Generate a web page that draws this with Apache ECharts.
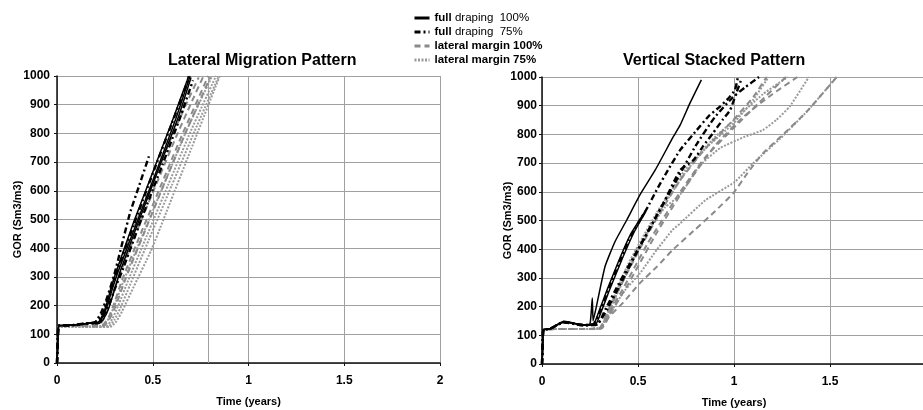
<!DOCTYPE html>
<html>
<head>
<meta charset="utf-8">
<script src="https://cdn.jsdelivr.net/npm/echarts@6/dist/echarts.min.js"></script>
<style>html,body{margin:0;padding:0;background:#fff}#c{width:923px;height:410px}</style>
</head>
<body>
<div id="c"></div>
<script>
// ---------- data ----------
const xTicks = [0, 0.5, 1, 1.5, 2];
const yTicks = [0, 100, 200, 300, 400, 500, 600, 700, 800, 900, 1000];
const panelTitles = ['Lateral Migration Pattern', 'Vertical Stacked Pattern'];
const groupNames = ['full draping 100%', 'full draping 75%', 'lateral margin 100%', 'lateral margin 75%'];
const leftExtraGridX = [0.79];

// Left panel: Lateral Migration Pattern  [time (years), GOR]
const leftFD100 = [
  [[0,0],[0.005,95],[0.01,130],[0.08,132],[0.15,138],[0.18,140],[0.2,138],[0.22,145],[0.25,185],[0.28,255],[0.31,320],[0.4,490],[0.5,665],[0.6,840],[0.68,985],[0.686,1000]],
  [[0,0],[0.005,95],[0.01,130],[0.08,132],[0.15,137],[0.18,139],[0.21,137],[0.23,150],[0.26,195],[0.29,260],[0.32,320],[0.42,495],[0.52,670],[0.62,850],[0.695,1000]],
  [[0,0],[0.005,95],[0.01,130],[0.08,132],[0.15,137],[0.18,139],[0.22,138],[0.24,150],[0.27,190],[0.3,255],[0.33,320],[0.43,500],[0.53,675],[0.63,850],[0.7,995]]
];
const leftFD75 = [
  [[0,0],[0.005,95],[0.01,130],[0.08,132],[0.15,138],[0.18,140],[0.2,142],[0.23,175],[0.26,225],[0.3,310],[0.38,520],[0.43,620],[0.48,720]],
  [[0,0],[0.005,95],[0.01,130],[0.08,132],[0.15,137],[0.19,140],[0.22,150],[0.25,195],[0.28,255],[0.31,315],[0.4,480],[0.5,660],[0.6,835],[0.69,995]],
  [[0,0],[0.005,95],[0.01,130],[0.08,132],[0.15,137],[0.19,139],[0.23,150],[0.27,200],[0.3,255],[0.34,320],[0.44,500],[0.55,690],[0.64,850],[0.71,985]]
];
const leftLM100 = [
  [[0,0],[0.005,95],[0.01,128],[0.1,130],[0.18,132],[0.21,135],[0.24,165],[0.27,230],[0.3,300],[0.4,470],[0.5,630],[0.6,790],[0.68,910],[0.74,995]],
  [[0,0],[0.005,95],[0.01,128],[0.1,130],[0.18,131],[0.22,132],[0.25,160],[0.28,215],[0.32,295],[0.42,465],[0.52,625],[0.62,785],[0.7,905],[0.765,1000]],
  [[0,0],[0.005,95],[0.01,128],[0.1,129],[0.2,129],[0.24,133],[0.27,160],[0.3,210],[0.34,290],[0.44,455],[0.55,630],[0.65,790],[0.79,1000]],
  [[0,0],[0.005,95],[0.01,128],[0.1,129],[0.2,128],[0.25,132],[0.28,160],[0.31,205],[0.35,280],[0.45,445],[0.56,625],[0.67,800],[0.8,995]]
];
const leftLM75 = [
  [[0,0],[0.005,95],[0.01,127],[0.1,128],[0.2,127],[0.24,130],[0.27,155],[0.3,200],[0.35,290],[0.45,450],[0.56,625],[0.68,815],[0.81,1000]],
  [[0,0],[0.005,95],[0.01,127],[0.1,127],[0.2,126],[0.26,129],[0.29,155],[0.32,200],[0.37,285],[0.47,445],[0.58,620],[0.7,810],[0.83,1000]],
  [[0,0],[0.005,95],[0.01,127],[0.1,127],[0.2,125],[0.27,127],[0.3,150],[0.33,190],[0.38,270],[0.48,430],[0.6,620],[0.72,810],[0.845,1000]],
  [[0,0],[0.005,95],[0.01,126],[0.1,126],[0.2,125],[0.28,126],[0.31,145],[0.34,180],[0.4,265],[0.49,390],[0.556,500],[0.7,745],[0.85,1000]]
];

// Right panel: Vertical Stacked Pattern
const rightFD100 = [
  [[0,0],[0.004,80],[0.008,120],[0.04,122],[0.08,138],[0.11,148],[0.14,146],[0.18,140],[0.22,136],[0.25,140],[0.262,230],[0.266,150],[0.28,190],[0.328,339],[0.38,426],[0.44,500],[0.51,589],[0.59,676],[0.684,792],[0.72,833],[0.77,908],[0.83,990]],
  [[0,0],[0.004,80],[0.008,120],[0.04,122],[0.08,137],[0.11,146],[0.14,145],[0.18,139],[0.22,136],[0.27,140],[0.3,190],[0.34,260],[0.4,360],[0.46,450],[0.545,540]],
  [[0,0],[0.004,80],[0.008,120],[0.04,122],[0.08,136],[0.11,145],[0.14,144],[0.18,139],[0.22,135],[0.28,138],[0.31,185],[0.35,255],[0.42,370],[0.48,460],[0.54,530]]
];
const rightFD75 = [
  [[0,0],[0.004,80],[0.008,120],[0.04,122],[0.08,137],[0.11,147],[0.14,145],[0.18,139],[0.22,136],[0.27,140],[0.3,180],[0.34,250],[0.4,350],[0.45,430],[0.5,490],[0.545,540],[0.6,610],[0.66,680],[0.72,746],[0.806,815],[0.87,865],[0.927,897],[0.97,925],[1.005,955],[1.02,998]],
  [[0,0],[0.004,80],[0.008,120],[0.04,122],[0.08,136],[0.11,146],[0.14,144],[0.18,138],[0.22,135],[0.29,140],[0.337,188],[0.42,293],[0.51,409],[0.632,560],[0.72,676],[0.79,711],[0.84,760],[0.89,804],[0.94,850],[0.98,885],[1.01,940],[1.04,995]],
  [[0,0],[0.004,80],[0.008,120],[0.04,122],[0.08,136],[0.11,145],[0.14,143],[0.18,138],[0.22,135],[0.29,138],[0.33,190],[0.4,280],[0.5,400],[0.6,520],[0.7,640],[0.8,760],[0.9,860],[0.995,930],[1.06,965],[1.13,1000]]
];
const rightLM100 = [
  [[0,0],[0.004,80],[0.008,120],[0.1,122],[0.2,122],[0.3,125],[0.34,180],[0.4,260],[0.5,390],[0.6,510],[0.72,641],[0.85,750],[0.996,850],[1.1,930],[1.17,1000]],
  [[0,0],[0.004,80],[0.008,120],[0.1,122],[0.2,122],[0.3,124],[0.35,180],[0.42,260],[0.55,420],[0.72,600],[0.85,720],[0.996,821],[1.13,910],[1.27,1000]],
  [[0,0],[0.004,80],[0.008,120],[0.1,122],[0.2,122],[0.31,124],[0.36,180],[0.45,280],[0.6,460],[0.75,620],[0.9,760],[1.05,862],[1.2,940],[1.33,1000]],
  [[0,0],[0.004,80],[0.008,120],[0.1,122],[0.2,122],[0.3,124],[0.35,165],[0.42,212],[0.51,282],[0.6,340],[0.68,397],[0.8,470],[0.89,525],[0.996,595],[1.07,665],[1.15,734],[1.24,790],[1.38,880],[1.535,1000]]
];
const rightLM75 = [
  [[0,0],[0.004,80],[0.008,120],[0.1,122],[0.2,122],[0.3,124],[0.36,200],[0.45,330],[0.55,460],[0.65,570],[0.75,670],[0.85,750],[1.0,840],[1.1,920],[1.18,1000]],
  [[0,0],[0.004,80],[0.008,120],[0.1,122],[0.2,122],[0.3,124],[0.337,158],[0.43,255],[0.51,316],[0.6,400],[0.68,467],[0.72,490],[0.85,570],[1.005,635],[1.1,700],[1.24,785],[1.38,880],[1.535,1000]],
  [[0,0],[0.004,80],[0.008,120],[0.1,122],[0.2,122],[0.3,124],[0.38,230],[0.47,360],[0.56,470],[0.64,545],[0.72,590],[0.82,690],[0.927,752],[1.05,790],[1.15,815],[1.22,850],[1.29,897],[1.39,1000]],
  [[0,0],[0.004,80],[0.008,120],[0.1,122],[0.2,122],[0.3,124],[0.36,210],[0.45,350],[0.6,530],[0.75,680],[0.9,790],[1.0,850],[1.15,940],[1.28,1000]]
];

// ---------- styles ----------
const FONT = '"Liberation Sans", Arial, sans-serif';
const groupStyles = [
  {color:'#000000', width:1.5, type:'solid'},
  {color:'#000000', width:2.4, type:[6,3,2,3]},
  {color:'#8a8a8a', width:2, type:[6,4]},
  {color:'#9a9a9a', width:2, type:[2,1.5]}
];

const series = [];
function addGroup(lines, gi, panel) {
  lines.forEach(function (pts) {
    series.push({
      type:'line', name: groupNames[gi], xAxisIndex: panel, yAxisIndex: panel,
      data: pts, symbol:'none', showSymbol:false, smooth:0.15,
      lineStyle: {color: groupStyles[gi].color, width: groupStyles[gi].width, type: groupStyles[gi].type},
      itemStyle: {color: groupStyles[gi].color},
      z: 10 - gi
    });
  });
}
addGroup(leftLM75, 3, 0); addGroup(leftLM100, 2, 0); addGroup(leftFD75, 1, 0); addGroup(leftFD100, 0, 0);
addGroup(rightLM75, 3, 1); addGroup(rightLM100, 2, 1); addGroup(rightFD75, 1, 1); addGroup(rightFD100, 0, 1);

// extra vertical reference line in left panel
series.push({
  type:'line', xAxisIndex:0, yAxisIndex:0, data:[], silent:true,
  markLine:{silent:true, symbol:'none', label:{show:false},
    lineStyle:{color:'#a0a0a0', type:'solid', width:1},
    data: leftExtraGridX.map(function (x) { return {xAxis:x}; })}
});

const grids = [
  {left:57, top:76, width:383, height:287, containLabel:false, outerBoundsMode:'none'},
  {left:542, top:77, width:384, height:287, containLabel:false, outerBoundsMode:'none'}
];

function xAxisCfg(i) {
  return {
    type:'value', gridIndex:i, min:xTicks[0], max:xTicks[xTicks.length-1], interval:0.5,
    name:'Time (years)', nameLocation:'middle', nameGap:33,
    nameTextStyle:{fontFamily:FONT, fontWeight:'bold', fontSize:11, color:'#000'},
    axisLine:{show:true, onZero:false, lineStyle:{color:'#111', width:1.5}},
    axisTick:{show:true, length:3, lineStyle:{color:'#111'}},
    axisLabel:{fontFamily:FONT, fontWeight:'bold', fontSize:12, color:'#000', margin:12},
    splitLine:{show:true, lineStyle:{color:'#a0a0a0', width:1}}
  };
}
function yAxisCfg(i) {
  return {
    type:'value', gridIndex:i, min:yTicks[0], max:yTicks[yTicks.length-1], interval:100,
    name:'GOR (Sm3/m3)', nameLocation:'middle', nameGap: i === 0 ? 33.5 : 28.5, nameRotate:90,
    nameMoveOverlap:false,
    nameTextStyle:{fontFamily:FONT, fontWeight:'bold', fontSize:11, color:'#000'},
    axisLine:{show:true, lineStyle:{color:'#111', width:1.5}},
    axisTick:{show:true, length:3, lineStyle:{color:'#111'}},
    axisLabel:{fontFamily:FONT, fontWeight:'bold', fontSize:12, color:'#000', margin: i === 0 ? 7 : 5,
      formatter:function (v) { return String(v); }},
    splitLine:{show:true, lineStyle:{color:'#a0a0a0', width:1}}
  };
}

const option = {
  animation:false,
  backgroundColor:'#fff',
  title:[
    {text:panelTitles[0], left:168, top:53, padding:0, textStyle:{fontFamily:FONT, fontWeight:'bold', fontSize:16, color:'#000'}},
    {text:panelTitles[1], left:623, top:53, padding:0, textStyle:{fontFamily:FONT, fontWeight:'bold', fontSize:16, color:'#000'}}
  ],
  legend:{
    orient:'vertical', left:413, top:11, padding:0, itemGap:0, itemWidth:15, itemHeight:6,
    data: groupNames.map(function (n, i) {
      return {name:n, lineStyle:{width:3, color:groupStyles[i].color, type:groupStyles[i].type},
              itemStyle:{color:groupStyles[i].color, opacity:0, borderWidth:0}};
    }),
    formatter: function (name) {
      if (name.indexOf('full') === 0) {
        return '{b|full} {n|' + name.slice(5).replace(' ', '  ') + '}';
      }
      return '{b|' + name + '}';
    },
    textStyle:{fontFamily:FONT, fontSize:11.5, color:'#000', lineHeight:14,
      rich:{b:{fontFamily:FONT, fontWeight:'bold', fontSize:11.5, lineHeight:14, color:'#000'},
            n:{fontFamily:FONT, fontWeight:'normal', fontSize:11.5, lineHeight:14, color:'#000'}}}
  },
  grid: grids,
  xAxis:[xAxisCfg(0), xAxisCfg(1)],
  yAxis:[yAxisCfg(0), yAxisCfg(1)],
  series: series
};

const chart = echarts.init(document.getElementById('c'), null, {renderer:'canvas'});
chart.setOption(option);
</script>
</body>
</html>
